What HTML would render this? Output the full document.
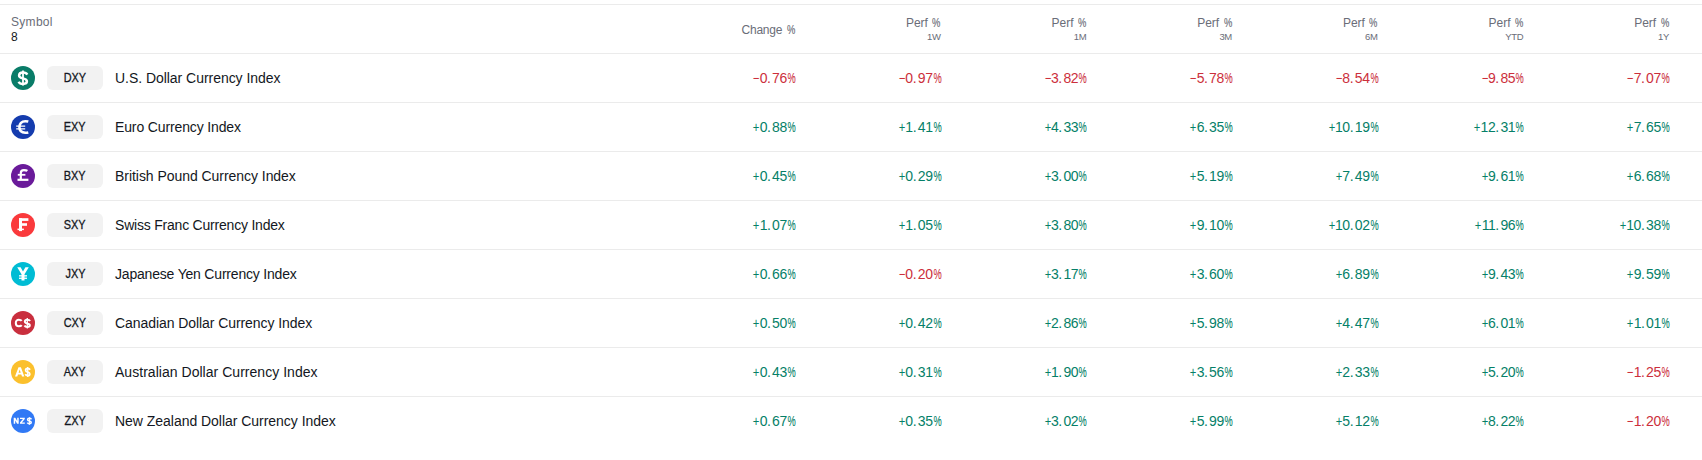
<!DOCTYPE html>
<html><head><meta charset="utf-8"><style>
*{box-sizing:border-box;margin:0;padding:0}
html,body{width:1702px;height:460px;background:#fff;overflow:hidden;font-family:"Liberation Sans",sans-serif;color:#131722}
.ln{position:absolute;left:0;width:1702px;height:1px;background:#ebebeb}
.hd{position:absolute;color:#6a6d78;font-size:12px;line-height:16px;white-space:nowrap}
.hpc{-webkit-text-stroke:0.15px currentColor;display:inline-block;width:8.2px;margin-left:1.2px;transform:scaleX(0.78);transform-origin:0 0;text-align:left}
.sub{position:absolute;color:#6a6d78;font-size:9.5px;line-height:10px;white-space:nowrap;letter-spacing:-0.3px}
.cnt{position:absolute;color:#131722;font-size:12px;line-height:16px}
.ic{position:absolute;left:11px;width:24px;height:24px}
.ic svg{display:block;font-family:"Liberation Sans",sans-serif}
.bd{position:absolute;left:47px;width:56px;height:24px;border-radius:6px;background:#f2f2f2;font-size:12.5px;line-height:24px;text-align:center;color:#131722}
.bd span{display:inline-block;transform:scaleX(0.87);transform-origin:50% 50%;-webkit-text-stroke:0.3px #131722}
.nm{position:absolute;left:115px;font-size:14px;line-height:18px;white-space:nowrap;color:#131722}
.v{position:absolute;font-size:14px;line-height:18px;white-space:nowrap;text-align:right;letter-spacing:-0.45px}
.sg{display:inline-block;width:7.34px;letter-spacing:0;transform:translateX(0.7px) scaleX(0.8);transform-origin:0 0;text-align:left}
.dt{letter-spacing:1.25px}
.pc{-webkit-text-stroke:0.1px currentColor;display:inline-block;width:8.4px;letter-spacing:0;transform:translateX(0.4px) scaleX(0.66);transform-origin:0 0;text-align:left}
.p{color:#067f68}.n{color:#cc2f3c}
</style></head><body>

<div class="ln" style="top:4px"></div>
<div class="hd" style="left:11px;top:14px;letter-spacing:0.3px">Symbol</div>
<div class="cnt" style="left:11px;top:29px">8</div>
<div class="hd" style="left:674.8px;width:120px;text-align:right;top:22px;letter-spacing:-0.2px">Change&nbsp;<span class="hpc">%</span></div>
<div class="hd" style="left:820.6px;width:120px;text-align:right;top:15px">Perf&nbsp;<span class="hpc">%</span></div>
<div class="sub" style="left:820.7px;width:120px;text-align:right;top:31.5px">1W</div>
<div class="hd" style="left:966.2px;width:120px;text-align:right;top:15px">Perf&nbsp;<span class="hpc">%</span></div>
<div class="sub" style="left:966.3px;width:120px;text-align:right;top:31.5px">1M</div>
<div class="hd" style="left:1111.9px;width:120px;text-align:right;top:15px">Perf&nbsp;<span class="hpc">%</span></div>
<div class="sub" style="left:1112.0px;width:120px;text-align:right;top:31.5px">3M</div>
<div class="hd" style="left:1257.6px;width:120px;text-align:right;top:15px">Perf&nbsp;<span class="hpc">%</span></div>
<div class="sub" style="left:1257.7px;width:120px;text-align:right;top:31.5px">6M</div>
<div class="hd" style="left:1403.2px;width:120px;text-align:right;top:15px">Perf&nbsp;<span class="hpc">%</span></div>
<div class="sub" style="left:1403.3px;width:120px;text-align:right;top:31.5px">YTD</div>
<div class="hd" style="left:1548.9px;width:120px;text-align:right;top:15px">Perf&nbsp;<span class="hpc">%</span></div>
<div class="sub" style="left:1549.0px;width:120px;text-align:right;top:31.5px">1Y</div>
<div class="ln" style="top:53px"></div>
<div class="ic" style="top:66px"><svg width="24" height="24" viewBox="0 0 24 24"><circle cx="12" cy="12" r="12" fill="#097c68"/><path d="M16.3 8.6C15.6 7.3 14.1 6.5 12 6.5C9.6 6.5 8.1 7.8 8.1 9.5C8.1 11.3 9.7 11.9 12 12.4C14.3 12.9 15.9 13.5 15.9 15.3C15.9 17 14.3 17.9 12 17.9C9.8 17.9 8.3 17.1 7.6 15.7" fill="none" stroke="#fff" stroke-width="2.5"/><path d="M12 4.6V19.4" stroke="#fff" stroke-width="1.8"/></svg></div>
<div class="bd" style="top:66px"><span>DXY</span></div>
<div class="nm" style="top:69px;letter-spacing:-0.04px">U.S. Dollar Currency Index</div>
<div class="v n" style="left:675.2px;width:120px;top:69px"><span class="sg">−</span>0<span class="dt">.</span>76<span class="pc">%</span></div>
<div class="v n" style="left:820.9px;width:120px;top:69px"><span class="sg">−</span>0<span class="dt">.</span>97<span class="pc">%</span></div>
<div class="v n" style="left:966.5px;width:120px;top:69px"><span class="sg">−</span>3<span class="dt">.</span>82<span class="pc">%</span></div>
<div class="v n" style="left:1112.2px;width:120px;top:69px"><span class="sg">−</span>5<span class="dt">.</span>78<span class="pc">%</span></div>
<div class="v n" style="left:1257.9px;width:120px;top:69px"><span class="sg">−</span>8<span class="dt">.</span>54<span class="pc">%</span></div>
<div class="v n" style="left:1403.5px;width:120px;top:69px"><span class="sg">−</span>9<span class="dt">.</span>85<span class="pc">%</span></div>
<div class="v n" style="left:1549.2px;width:120px;top:69px"><span class="sg">−</span>7<span class="dt">.</span>07<span class="pc">%</span></div>
<div class="ln" style="top:102px"></div>
<div class="ic" style="top:115px"><svg width="24" height="24" viewBox="0 0 24 24"><circle cx="12" cy="12" r="12" fill="#153cae"/><path d="M17.3 6.6C16.5 6.4 15.5 6.3 14.3 6.3C10.6 6.3 8.4 8.6 8.4 12S10.6 17.7 14.3 17.7C15.5 17.7 16.5 17.6 17.3 17.4" fill="none" stroke="#fff" stroke-width="2.6"/><path d="M5.2 11.1H14.2M5.2 13.9H14.2" stroke="#fff" stroke-width="1.4"/></svg></div>
<div class="bd" style="top:115px"><span>EXY</span></div>
<div class="nm" style="top:118px;letter-spacing:-0.133px">Euro Currency Index</div>
<div class="v p" style="left:675.2px;width:120px;top:118px"><span class="sg">+</span>0<span class="dt">.</span>88<span class="pc">%</span></div>
<div class="v p" style="left:820.9px;width:120px;top:118px"><span class="sg">+</span>1<span class="dt">.</span>41<span class="pc">%</span></div>
<div class="v p" style="left:966.5px;width:120px;top:118px"><span class="sg">+</span>4<span class="dt">.</span>33<span class="pc">%</span></div>
<div class="v p" style="left:1112.2px;width:120px;top:118px"><span class="sg">+</span>6<span class="dt">.</span>35<span class="pc">%</span></div>
<div class="v p" style="left:1257.9px;width:120px;top:118px"><span class="sg">+</span>10<span class="dt">.</span>19<span class="pc">%</span></div>
<div class="v p" style="left:1403.5px;width:120px;top:118px"><span class="sg">+</span>12<span class="dt">.</span>31<span class="pc">%</span></div>
<div class="v p" style="left:1549.2px;width:120px;top:118px"><span class="sg">+</span>7<span class="dt">.</span>65<span class="pc">%</span></div>
<div class="ln" style="top:151px"></div>
<div class="ic" style="top:164px"><svg width="24" height="24" viewBox="0 0 24 24"><circle cx="12" cy="12" r="12" fill="#6a1b9a"/><path d="M9.8 15.6V8.9C9.8 7.1 10.9 6.2 12.9 6.2C14.5 6.2 15.6 6.3 16.4 6.9" fill="none" stroke="#fff" stroke-width="2.2"/><rect x="6.8" y="9.9" width="7.6" height="1.8" fill="#fff"/><rect x="6.5" y="14.7" width="10.9" height="2.2" fill="#fff"/></svg></div>
<div class="bd" style="top:164px"><span>BXY</span></div>
<div class="nm" style="top:167px;letter-spacing:-0.046px">British Pound Currency Index</div>
<div class="v p" style="left:675.2px;width:120px;top:167px"><span class="sg">+</span>0<span class="dt">.</span>45<span class="pc">%</span></div>
<div class="v p" style="left:820.9px;width:120px;top:167px"><span class="sg">+</span>0<span class="dt">.</span>29<span class="pc">%</span></div>
<div class="v p" style="left:966.5px;width:120px;top:167px"><span class="sg">+</span>3<span class="dt">.</span>00<span class="pc">%</span></div>
<div class="v p" style="left:1112.2px;width:120px;top:167px"><span class="sg">+</span>5<span class="dt">.</span>19<span class="pc">%</span></div>
<div class="v p" style="left:1257.9px;width:120px;top:167px"><span class="sg">+</span>7<span class="dt">.</span>49<span class="pc">%</span></div>
<div class="v p" style="left:1403.5px;width:120px;top:167px"><span class="sg">+</span>9<span class="dt">.</span>61<span class="pc">%</span></div>
<div class="v p" style="left:1549.2px;width:120px;top:167px"><span class="sg">+</span>6<span class="dt">.</span>68<span class="pc">%</span></div>
<div class="ln" style="top:200px"></div>
<div class="ic" style="top:213px"><svg width="24" height="24" viewBox="0 0 24 24"><circle cx="12" cy="12" r="12" fill="#fa3a3c"/><rect x="8" y="5.2" width="3" height="12.9" fill="#fff"/><rect x="8" y="5.2" width="9.4" height="2.7" fill="#fff"/><rect x="8" y="10.2" width="8" height="2.6" fill="#fff"/><rect x="6.5" y="15.6" width="6.4" height="1.5" fill="#fff"/></svg></div>
<div class="bd" style="top:213px"><span>SXY</span></div>
<div class="nm" style="top:216px;letter-spacing:-0.21px">Swiss Franc Currency Index</div>
<div class="v p" style="left:675.2px;width:120px;top:216px"><span class="sg">+</span>1<span class="dt">.</span>07<span class="pc">%</span></div>
<div class="v p" style="left:820.9px;width:120px;top:216px"><span class="sg">+</span>1<span class="dt">.</span>05<span class="pc">%</span></div>
<div class="v p" style="left:966.5px;width:120px;top:216px"><span class="sg">+</span>3<span class="dt">.</span>80<span class="pc">%</span></div>
<div class="v p" style="left:1112.2px;width:120px;top:216px"><span class="sg">+</span>9<span class="dt">.</span>10<span class="pc">%</span></div>
<div class="v p" style="left:1257.9px;width:120px;top:216px"><span class="sg">+</span>10<span class="dt">.</span>02<span class="pc">%</span></div>
<div class="v p" style="left:1403.5px;width:120px;top:216px"><span class="sg">+</span>11<span class="dt">.</span>96<span class="pc">%</span></div>
<div class="v p" style="left:1549.2px;width:120px;top:216px"><span class="sg">+</span>10<span class="dt">.</span>38<span class="pc">%</span></div>
<div class="ln" style="top:249px"></div>
<div class="ic" style="top:262px"><svg width="24" height="24" viewBox="0 0 24 24"><circle cx="12" cy="12" r="12" fill="#00bcd4"/><path d="M6.2 5.2H9.6L12 9.6L14.4 5.2H17.8L13.5 12.2V18.4H10.5V12.2Z" fill="#fff"/><rect x="8" y="13.2" width="8" height="1.3" fill="#fff"/><rect x="8" y="15.6" width="8" height="1.3" fill="#fff"/></svg></div>
<div class="bd" style="top:262px"><span>JXY</span></div>
<div class="nm" style="top:265px;letter-spacing:-0.192px">Japanese Yen Currency Index</div>
<div class="v p" style="left:675.2px;width:120px;top:265px"><span class="sg">+</span>0<span class="dt">.</span>66<span class="pc">%</span></div>
<div class="v n" style="left:820.9px;width:120px;top:265px"><span class="sg">−</span>0<span class="dt">.</span>20<span class="pc">%</span></div>
<div class="v p" style="left:966.5px;width:120px;top:265px"><span class="sg">+</span>3<span class="dt">.</span>17<span class="pc">%</span></div>
<div class="v p" style="left:1112.2px;width:120px;top:265px"><span class="sg">+</span>3<span class="dt">.</span>60<span class="pc">%</span></div>
<div class="v p" style="left:1257.9px;width:120px;top:265px"><span class="sg">+</span>6<span class="dt">.</span>89<span class="pc">%</span></div>
<div class="v p" style="left:1403.5px;width:120px;top:265px"><span class="sg">+</span>9<span class="dt">.</span>43<span class="pc">%</span></div>
<div class="v p" style="left:1549.2px;width:120px;top:265px"><span class="sg">+</span>9<span class="dt">.</span>59<span class="pc">%</span></div>
<div class="ln" style="top:298px"></div>
<div class="ic" style="top:311px"><svg width="24" height="24" viewBox="0 0 24 24"><circle cx="12" cy="12" r="12" fill="#c92f3e"/><path d="M10.7 9.9C10.2 9.1 9.1 8.7 7.8 8.7C5.9 8.7 4.8 10.1 4.8 12C4.8 13.9 5.9 15.3 7.8 15.3C9.1 15.3 10.2 14.9 10.7 14.1" fill="none" stroke="#fff" stroke-width="2"/><path transform="translate(16.3 12.3) scale(0.64 0.64) translate(-12 -12.2)" d="M16.3 8.6C15.6 7.3 14.1 6.5 12 6.5C9.6 6.5 8.1 7.8 8.1 9.5C8.1 11.3 9.7 11.9 12 12.4C14.3 12.9 15.9 13.5 15.9 15.3C15.9 17 14.3 17.9 12 17.9C9.8 17.9 8.3 17.1 7.6 15.7" fill="none" stroke="#fff" stroke-width="3.1"/><path d="M16.3 7.1V17.5" stroke="#fff" stroke-width="1.3"/></svg></div>
<div class="bd" style="top:311px"><span>CXY</span></div>
<div class="nm" style="top:314px;letter-spacing:-0.069px">Canadian Dollar Currency Index</div>
<div class="v p" style="left:675.2px;width:120px;top:314px"><span class="sg">+</span>0<span class="dt">.</span>50<span class="pc">%</span></div>
<div class="v p" style="left:820.9px;width:120px;top:314px"><span class="sg">+</span>0<span class="dt">.</span>42<span class="pc">%</span></div>
<div class="v p" style="left:966.5px;width:120px;top:314px"><span class="sg">+</span>2<span class="dt">.</span>86<span class="pc">%</span></div>
<div class="v p" style="left:1112.2px;width:120px;top:314px"><span class="sg">+</span>5<span class="dt">.</span>98<span class="pc">%</span></div>
<div class="v p" style="left:1257.9px;width:120px;top:314px"><span class="sg">+</span>4<span class="dt">.</span>47<span class="pc">%</span></div>
<div class="v p" style="left:1403.5px;width:120px;top:314px"><span class="sg">+</span>6<span class="dt">.</span>01<span class="pc">%</span></div>
<div class="v p" style="left:1549.2px;width:120px;top:314px"><span class="sg">+</span>1<span class="dt">.</span>01<span class="pc">%</span></div>
<div class="ln" style="top:347px"></div>
<div class="ic" style="top:360px"><svg width="24" height="24" viewBox="0 0 24 24"><circle cx="12" cy="12" r="12" fill="#fbc02d"/><path fill-rule="evenodd" d="M4.0 16.6L7.5 7.2H9.9L13.3 16.6H11.0L10.3 14.6H7.0L6.3 16.6ZM7.6 12.8H9.7L8.65 9.6Z" fill="#fff"/><path transform="translate(16.7 12.0) scale(0.55 0.62) translate(-12 -12.2)" d="M16.3 8.6C15.6 7.3 14.1 6.5 12 6.5C9.6 6.5 8.1 7.8 8.1 9.5C8.1 11.3 9.7 11.9 12 12.4C14.3 12.9 15.9 13.5 15.9 15.3C15.9 17 14.3 17.9 12 17.9C9.8 17.9 8.3 17.1 7.6 15.7" fill="none" stroke="#fff" stroke-width="3.1"/><path d="M16.7 6.9V17.1" stroke="#fff" stroke-width="1.3"/></svg></div>
<div class="bd" style="top:360px"><span>AXY</span></div>
<div class="nm" style="top:363px;letter-spacing:0.032px">Australian Dollar Currency Index</div>
<div class="v p" style="left:675.2px;width:120px;top:363px"><span class="sg">+</span>0<span class="dt">.</span>43<span class="pc">%</span></div>
<div class="v p" style="left:820.9px;width:120px;top:363px"><span class="sg">+</span>0<span class="dt">.</span>31<span class="pc">%</span></div>
<div class="v p" style="left:966.5px;width:120px;top:363px"><span class="sg">+</span>1<span class="dt">.</span>90<span class="pc">%</span></div>
<div class="v p" style="left:1112.2px;width:120px;top:363px"><span class="sg">+</span>3<span class="dt">.</span>56<span class="pc">%</span></div>
<div class="v p" style="left:1257.9px;width:120px;top:363px"><span class="sg">+</span>2<span class="dt">.</span>33<span class="pc">%</span></div>
<div class="v p" style="left:1403.5px;width:120px;top:363px"><span class="sg">+</span>5<span class="dt">.</span>20<span class="pc">%</span></div>
<div class="v n" style="left:1549.2px;width:120px;top:363px"><span class="sg">−</span>1<span class="dt">.</span>25<span class="pc">%</span></div>
<div class="ln" style="top:396px"></div>
<div class="ic" style="top:409px"><svg width="24" height="24" viewBox="0 0 24 24"><circle cx="12" cy="12" r="12" fill="#3179f5"/><path d="M2.7 14.7V8.8H4.3L6.2 12.0V8.8H7.7V14.7H6.1L4.2 11.5V14.7ZM9 8.8H13.8V10.1L10.9 13.4H13.8V14.7H9V13.4L11.9 10.1H9Z" fill="#fff"/><path transform="translate(18.4 12.0) scale(0.47 0.47) translate(-12 -12.2)" d="M16.3 8.6C15.6 7.3 14.1 6.5 12 6.5C9.6 6.5 8.1 7.8 8.1 9.5C8.1 11.3 9.7 11.9 12 12.4C14.3 12.9 15.9 13.5 15.9 15.3C15.9 17 14.3 17.9 12 17.9C9.8 17.9 8.3 17.1 7.6 15.7" fill="none" stroke="#fff" stroke-width="3.2"/><path d="M18.4 8.3V15.7" stroke="#fff" stroke-width="1.1"/></svg></div>
<div class="bd" style="top:409px"><span>ZXY</span></div>
<div class="nm" style="top:412px;letter-spacing:-0.031px">New Zealand Dollar Currency Index</div>
<div class="v p" style="left:675.2px;width:120px;top:412px"><span class="sg">+</span>0<span class="dt">.</span>67<span class="pc">%</span></div>
<div class="v p" style="left:820.9px;width:120px;top:412px"><span class="sg">+</span>0<span class="dt">.</span>35<span class="pc">%</span></div>
<div class="v p" style="left:966.5px;width:120px;top:412px"><span class="sg">+</span>3<span class="dt">.</span>02<span class="pc">%</span></div>
<div class="v p" style="left:1112.2px;width:120px;top:412px"><span class="sg">+</span>5<span class="dt">.</span>99<span class="pc">%</span></div>
<div class="v p" style="left:1257.9px;width:120px;top:412px"><span class="sg">+</span>5<span class="dt">.</span>12<span class="pc">%</span></div>
<div class="v p" style="left:1403.5px;width:120px;top:412px"><span class="sg">+</span>8<span class="dt">.</span>22<span class="pc">%</span></div>
<div class="v n" style="left:1549.2px;width:120px;top:412px"><span class="sg">−</span>1<span class="dt">.</span>20<span class="pc">%</span></div>
</body></html>
